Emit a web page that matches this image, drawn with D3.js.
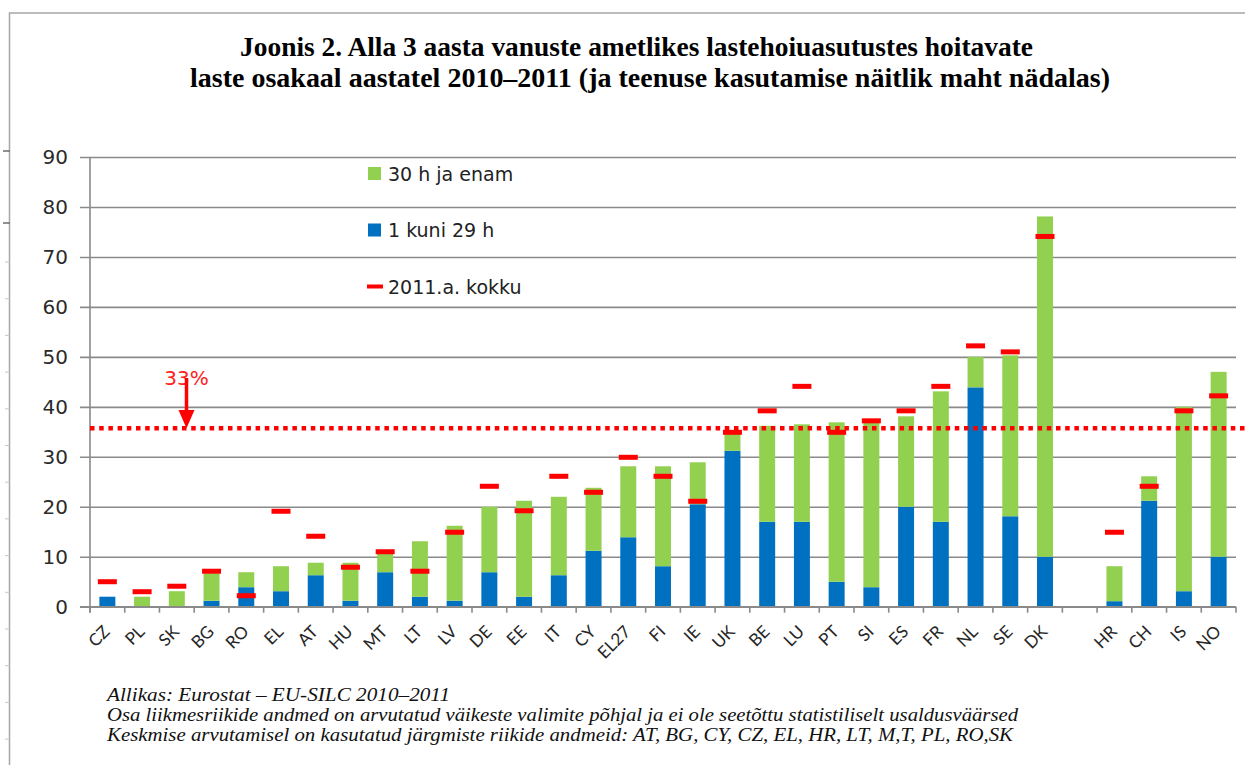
<!DOCTYPE html>
<html>
<head>
<meta charset="utf-8">
<script src="https://cdn.jsdelivr.net/npm/d3@7"></script>
<style>
  body { margin: 0; background: #fff; }
  svg { display: block; }
</style>
</head>
<body>
<script>
// country codes, "" is the empty slot between DK and HR
var categories = ['CZ','PL','SK','BG','RO','EL','AT','HU','MT','LT','LV','DE','EE','IT','CY','EL27',
                  'FI','IE','UK','BE','LU','PT','SI','ES','FR','NL','SE','DK','','HR','CH','IS','NO'];

// 1 kuni 29 h
var short_hours = [2.0,0,0,1.2,3.9,3.1,6.3,1.2,6.9,2.0,1.2,6.9,2.0,6.3,11.2,13.9,
                   8.1,20.5,31.2,17.0,17.0,5.0,3.9,20.0,17.0,43.9,18.1,10.0,null,1.1,21.2,3.1,10.0];
// 30 h ja enam
var long_hours = [0,2.0,3.1,5.5,3.0,5.0,2.5,7.6,3.8,11.1,15.0,13.1,19.2,15.7,12.6,14.2,
                  20.0,8.4,3.9,19.2,19.5,31.9,33.3,18.1,26.1,6.1,32.2,68.1,null,7.0,4.9,36.9,37.0];
// 2011.a. kokku
var total_2011 = [5,3,4.1,7.1,2.2,19.1,14.1,7.9,11,7.1,14.9,24.1,19.2,26.1,22.9,29.9,
                  26.1,21.1,34.9,39.2,44.1,34.9,37.2,39.2,44.1,52.2,51,74.1,null,14.9,24.1,39.2,42.2];

var target_line = 35.7, target_label = '33%';
var y_ticks = [0,10,20,30,40,50,60,70,80,90];

var legend_items = [
    {label: '30 h ja enam', type: 'box', color: '#92d050'},
    {label: '1 kuni 29 h', type: 'box', color: '#0070c0'},
    {label: '2011.a. kokku', type: 'dash', color: '#ff0000'}
];

var title_lines = [
    'Joonis 2. Alla 3 aasta vanuste ametlikes lastehoiuasutustes hoitavate',
    'laste osakaal aastatel 2010\u20132011 (ja teenuse kasutamise näitlik maht nädalas)'
];
var notes = [
    'Allikas: Eurostat \u2013 EU-SILC 2010\u20132011',
    'Osa liikmesriikide andmed on arvutatud väikeste valimite põhjal ja ei ole seetõttu statistiliselt usaldusväärsed',
    'Keskmise arvutamisel on kasutatud järgmiste riikide andmeid: AT, BG, CY, CZ, EL, HR, LT, M,T, PL, RO,SK'
];

var W = 1245, H = 765;
var plot = {left: 90, right: 1236, top: 157, bottom: 606.7};

var svg = d3.select('body')
    .append('svg')
        .attr('width', W)
        .attr('height', H);

// page frame (document border)
svg.append('path')
    .attr('d', 'M9.5,765 V13 H1245')
    .attr('fill', 'none')
    .attr('stroke', '#a6a6a6')
    .attr('stroke-width', 1.5);
svg.selectAll('.ruler')
    .data([151, 223])
    .enter().append('line')
        .attr('x1', 3).attr('x2', 9.5)
        .attr('y1', d => d).attr('y2', d => d)
        .attr('stroke', '#222');
svg.selectAll('.ruler2')
    .data(d3.range(262, 765, 36.7))
    .enter().append('line')
        .attr('x1', 5).attr('x2', 9.5)
        .attr('y1', d => d).attr('y2', d => d)
        .attr('stroke', '#c8c8c8');

// title
svg.selectAll('.title')
    .data(title_lines)
    .enter().append('text')
        .attr('x', (d, i) => i ? 650 : 636.5)
        .attr('y', (d, i) => i ? 87 : 56)
        .attr('text-anchor', 'middle')
        .attr('textLength', (d, i) => i ? 920 : 793)
        .attr('lengthAdjust', 'spacingAndGlyphs')
        .style('font-family', '"Liberation Serif", "Times New Roman", serif')
        .style('font-weight', 'bold')
        .style('font-size', '27px')
        .text(d => d);

var x = d3.scaleBand()
    .domain(categories)
    .range([plot.left, plot.right])
    .paddingInner(0.54)
    .paddingOuter(0.27);

var y = d3.scaleLinear()
    .domain([0, 90])
    .range([plot.bottom, plot.top]);

// gridlines + y labels
var axisY = d3.axisLeft(y)
    .tickValues(y_ticks)
    .tickSize(-(plot.right - plot.left + 10))
    .tickPadding(12);

var $y = svg.append('g')
    .attr('class', 'y axis')
    .attr('transform', 'translate(' + (plot.left - 10) + ',0)')
    .call(axisY);
$y.select('.domain').remove();
$y.selectAll('.tick line')
    .attr('stroke', '#8a8a8a')
    .attr('stroke-width', 1.6);
$y.selectAll('.tick text')
    .attr('x', -12)
    .style('font-family', '"DejaVu Sans", Verdana, sans-serif')
    .style('font-size', '20px')
    .attr('fill', '#2a2a2a');

// bars
var stacked = categories.map(function(c, i) {
    return {cat: c, blue: short_hours[i], green: long_hours[i], red: total_2011[i]};
}).filter(d => d.cat !== '');

svg.append('g')
    .selectAll('rect')
    .data(stacked)
    .enter().append('rect')
        .attr('x', d => x(d.cat))
        .attr('width', x.bandwidth())
        .attr('y', d => y(d.blue))
        .attr('height', d => y(0) - y(d.blue))
        .attr('fill', '#0070c0');

svg.append('g')
    .selectAll('rect')
    .data(stacked)
    .enter().append('rect')
        .attr('x', d => x(d.cat))
        .attr('width', x.bandwidth())
        .attr('y', d => y(d.blue + d.green))
        .attr('height', d => y(d.blue) - y(d.blue + d.green))
        .attr('fill', '#92d050');

// axis lines
svg.append('line')
    .attr('x1', plot.left).attr('x2', plot.left)
    .attr('y1', plot.top).attr('y2', plot.bottom + 6)
    .attr('stroke', '#8a8a8a').attr('stroke-width', 1.6);
svg.append('line')
    .attr('x1', plot.left - 10).attr('x2', plot.right)
    .attr('y1', plot.bottom).attr('y2', plot.bottom)
    .attr('stroke', '#8a8a8a').attr('stroke-width', 1.6);

var gap = (x.step() - x.bandwidth()) / 2;
var bounds = categories.map(c => x(c) - gap).concat([plot.right]);
svg.selectAll('.xtick')
    .data(bounds)
    .enter().append('line')
        .attr('x1', d => d).attr('x2', d => d)
        .attr('y1', plot.bottom).attr('y2', plot.bottom + 6)
        .attr('stroke', '#8a8a8a').attr('stroke-width', 1.6);

// x labels, each in its own rotated group
var $lab = svg.append('g')
    .attr('class', 'x labels')
    .selectAll('g')
    .data(categories.filter(c => c !== ''))
    .enter().append('g')
        .attr('transform', d => 'translate(' + (x(d) + x.bandwidth() / 2 + 3.5) + ',' + (plot.bottom + 26) + ')');
$lab.append('g')
    .attr('transform', 'rotate(-45)')
    .append('text')
        .attr('x', 0).attr('y', 0)
        .attr('text-anchor', 'end')
        .style('font-family', 'Lato, "Open Sans", sans-serif')
        .style('font-size', '17px')
        .attr('fill', '#262626')
        .text(d => d);

// 33% line
svg.append('line')
    .attr('x1', plot.left).attr('x2', W)
    .attr('y1', y(target_line)).attr('y2', y(target_line))
    .attr('stroke', '#ff0000')
    .attr('stroke-width', 4.5)
    .attr('stroke-dasharray', '4.5,4.7');

// 2011 totals
svg.append('g')
    .selectAll('rect')
    .data(stacked)
    .enter().append('rect')
        .attr('x', d => x(d.cat) + x.bandwidth() / 2 - 9.5)
        .attr('width', 19)
        .attr('y', d => y(d.red) - 2.5)
        .attr('height', 5)
        .attr('fill', '#ff0000');

// arrow with label
var ax = 186.5;
svg.append('text')
    .attr('x', ax).attr('y', 385)
    .attr('text-anchor', 'middle')
    .style('font-family', '"DejaVu Sans", Verdana, sans-serif')
    .style('font-size', '20px')
    .attr('fill', '#ff2020')
    .text(target_label);
svg.append('line')
    .attr('x1', ax).attr('x2', ax)
    .attr('y1', 378).attr('y2', 416)
    .attr('stroke', '#ff0000').attr('stroke-width', 3.5);
svg.append('path')
    .attr('d', 'M' + (ax - 8) + ',410 L' + (ax + 8) + ',410 L' + ax + ',' + y(target_line) + 'Z')
    .attr('fill', '#ff0000');

// legend
var $leg = svg.append('g')
    .selectAll('g')
    .data(legend_items)
    .enter().append('g')
        .attr('transform', (d, i) => 'translate(367,' + (173.5 + i * 56.5) + ')');
$leg.filter(d => d.type === 'box').append('rect')
    .attr('x', 1).attr('y', -6.5).attr('width', 13).attr('height', 13)
    .attr('fill', d => d.color);
$leg.filter(d => d.type === 'dash').append('rect')
    .attr('x', 0).attr('y', -2).attr('width', 16).attr('height', 4)
    .attr('fill', d => d.color);
$leg.append('text')
    .attr('x', 21).attr('y', 7)
    .style('font-family', '"DejaVu Sans", Verdana, sans-serif')
    .style('font-size', '19px')
    .attr('fill', '#222')
    .text(d => d.label);

// source notes
svg.selectAll('.note')
    .data(notes)
    .enter().append('text')
        .attr('x', 107)
        .attr('y', (d, i) => 701 + i * 20)
        .attr('textLength', (d, i) => [343, 911, 906][i])
        .attr('lengthAdjust', 'spacingAndGlyphs')
        .style('font-family', '"Liberation Serif", "Times New Roman", serif')
        .style('font-style', 'italic')
        .style('font-size', '18px')
        .attr('fill', '#111')
        .text(d => d);
</script>
</body>
</html>
